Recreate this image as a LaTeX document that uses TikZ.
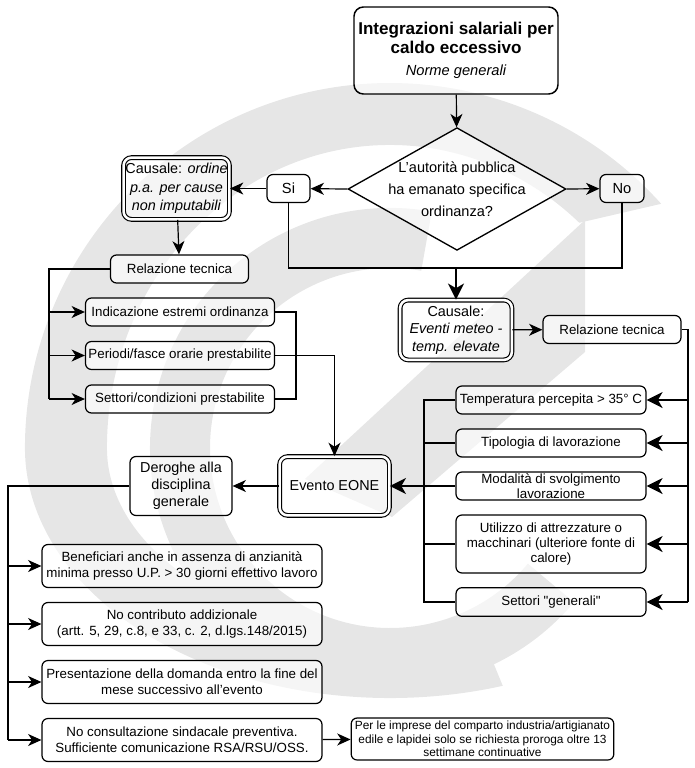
\documentclass[tikz,border=0pt]{standalone}
\usepackage{fontspec}
\setmainfont{Liberation Sans}
\newfontfamily\qfont{Liberation Sans}[Ligatures=TeXOff]
\usetikzlibrary{arrows.meta,shapes.geometric,calc}
\definecolor{wm}{HTML}{E6E6E6}
\tikzset{
  box/.style={draw, fill=white, fill opacity=0.6, text opacity=1, rounded corners=4.5pt, line width=0.9pt,
    align=center, inner sep=0pt, font=\fontsize{10}{12}\selectfont},
  dbox/.style={draw, fill=white, fill opacity=0.6, text opacity=1, double, double distance=1.9pt,
    line width=0.85pt, rounded corners=6pt, align=center, inner sep=0pt, font=\fontsize{10.8}{13.5}\selectfont},
  ln/.style={line width=0.9pt},
  tk/.style={line width=1.4pt},
  arr/.style={ln, -{Stealth[length=10pt,width=9pt,inset=3pt]}},
  tarr/.style={tk, -{Stealth[length=12pt,width=12pt,inset=3.5pt]}}
}
\begin{document}
\begin{tikzpicture}[x=0.75pt,y=-0.75pt]
\useasboundingbox (0,0) rectangle (694,768);
% watermark
\fill[wm] (661.2,203.8) arc[start angle=-42,end angle=-180,radius=365]
  arc[start angle=-180,end angle=-288,x radius=365,y radius=250] -- (477.4,623.9)
  arc[start angle=-288,end angle=-180,x radius=283,y radius=185]
  arc[start angle=-180,end angle=-48,x radius=283,y radius=303] -- cycle;
\fill[wm] (431.7,211.6) arc[start angle=-80,end angle=-320,radius=240] -- (527.9,563.7)
  arc[start angle=-320,end angle=-80,radius=180] -- cycle;
\fill[wm] (305,479) -- (585,220) -- (585,352) -- (392,517) -- cycle;

% nodes
\node[box, line width=1.1pt, rounded corners=7pt, minimum width=153pt, minimum height=65.25pt,
  font=\bfseries\fontsize{12.8}{14.3}\selectfont] (title) at (456,50.5)
  {Integrazioni salariali per\\caldo eccessivo\\[2pt]{\mdseries\itshape\fontsize{11}{13}\selectfont Norme generali}};
\node[draw, fill=white, fill opacity=0.6, text opacity=1, line width=1pt, shape=diamond, aspect=1.78, inner sep=-9pt,
  minimum width=163.5pt, minimum height=92pt, align=center, font=\fontsize{10.9}{16.5}\selectfont] (dia) at (457,189)
  {L'autorità pubblica\\ha emanato specifica\\ordinanza?};
\node[box, font=\fontsize{11}{13}\selectfont, minimum width=32.25pt, minimum height=21pt] (si) at (288.5,188.5) {Si};
\node[box, font=\fontsize{11}{13}\selectfont, minimum width=33pt, minimum height=21pt] (no) at (622,188.5) {No};
\node[dbox, font=\fontsize{10.8}{14}\selectfont, minimum width=79.4pt, minimum height=46.35pt] (causL) at (176.5,188.5)
  {Causale: \textit{ordine}\\\textit{p.a. per cause}\\\textit{non imputabili}};
\node[box, minimum width=103.5pt, minimum height=21pt] (relL) at (179.5,269) {Relazione tecnica};
\node[box, minimum width=141.75pt, minimum height=21pt] (ind) at (180,312) {Indicazione estremi ordinanza};
\node[box, minimum width=141.75pt, minimum height=21pt] (per) at (180,355.5) {Periodi/fasce orarie prestabilite};
\node[box, minimum width=141.75pt, minimum height=21pt] (set) at (180,399) {Settori/condizioni prestabilite};
\node[dbox, font=\fontsize{10.8}{13}\selectfont, minimum width=83.85pt, minimum height=44.85pt] (causR) at (456,330)
  {Causale:\\\textit{Eventi meteo -}\\\textit{temp. elevate}};
\node[box, minimum width=103.5pt, minimum height=21pt] (relR) at (612,329.5) {Relazione tecnica};
\node[box, minimum width=142.5pt, minimum height=21pt] (temp) at (551,400) {Temperatura percepita > 35° C};
\node[box, minimum width=142.5pt, minimum height=21pt] (tip) at (551,443) {Tipologia di lavorazione};
\node[box, font=\fontsize{10}{11.5}\selectfont, minimum width=142.5pt, minimum height=21pt] (mod) at (551,486) {Modalità di svolgimento\\lavorazione};
\node[box, font=\fontsize{10}{11.5}\selectfont, minimum width=142.5pt, minimum height=43.5pt] (util) at (551,544) {Utilizzo di attrezzature o\\macchinari (ulteriore fonte di\\calore)};
\node[box, minimum width=142.5pt, minimum height=21.5pt] (setg) at (551,602) {\qfont Settori "generali"};
\node[dbox, minimum width=82.35pt, minimum height=44.1pt] (ev) at (334.5,486) {Evento EONE};
\node[box, font=\fontsize{10.8}{12.75}\selectfont, minimum width=76.5pt, minimum height=44.25pt] (der) at (181,486)
  {Deroghe alla\\disciplina\\generale};
\node[box, minimum width=210pt, minimum height=32.25pt] (ben) at (182,566)
  {Beneficiari anche in assenza di anzianità\\minima presso U.P. > 30 giorni effettivo lavoro};
\node[box, minimum width=210pt, minimum height=32.25pt] (noc) at (182,624)
  {No contributo addizionale\\(artt. 5, 29, c.8, e 33, c. 2, d.lgs.148/2015)};
\node[box, minimum width=210pt, minimum height=32.25pt] (pres) at (182,682)
  {Presentazione della domanda entro la fine del\\mese successivo all'evento};
\node[box, minimum width=210pt, minimum height=32.25pt] (nocons) at (182,740)
  {No consultazione sindacale preventiva.\\Sufficiente comunicazione RSA/RSU/OSS.};
\node[box, font=\fontsize{8.9}{10.3}\selectfont, minimum width=197pt, minimum height=31.5pt] (perle) at (482.5,739)
  {Per le imprese del comparto industria/artigianato\\edile e lapidei solo se richiesta proroga oltre 13\\settimane continuative};

% coordinates
\coordinate (m) at (456,268);
\coordinate (lbus) at (49,269);
\coordinate (br) at (296,312);
\coordinate (rbus) at (688,329.5);
\coordinate (mbus) at (424,400);
\coordinate (dbus) at (8,486);

% connectors
\draw[arr] (title) -- (dia);
\draw[arr] (dia.west) -- (si);
\draw[arr] (si) -- (causL);
\draw[arr] (dia.east) -- (no);
\draw[ln] (si.south) |- (m) -| (no.south);
\draw[tarr] (m) -- (causR.north);
\draw[arr] (causL) -- (relL);
\draw[ln] (relL.west) -- (lbus) -- (lbus |- set.west);
\draw[arr] (lbus |- ind.west) -- (ind.west);
\draw[arr] (lbus |- per.west) -- (per.west);
\draw[arr] (lbus |- set.west) -- (set.west);
\draw[ln] (ind.east) -- (br) -- (br |- set.east) -- (set.east);
\draw[arr] (per.east) -| (ev.north);
\draw[arr] (causR) -- (relR);
\draw[tk] (relR.east) -- (rbus) -- (rbus |- setg.east);
\draw[tarr] (rbus |- temp.east) -- (temp.east);
\draw[tarr] (rbus |- tip.east) -- (tip.east);
\draw[tarr] (rbus |- mod.east) -- (mod.east);
\draw[tarr] (rbus |- util.east) -- (util.east);
\draw[tarr] (rbus |- setg.east) -- (setg.east);
\draw[ln] (temp.west) -- (mbus) -- (mbus |- setg.west) -- (setg.west);
\draw[ln] (tip.west) -- (mbus |- tip.west);
\draw[ln] (mod.west) -- (mbus |- mod.west);
\draw[ln] (util.west) -- (mbus |- util.west);
\draw[tarr] (mbus |- ev.east) -- (ev.east);
\draw[arr] (ev) -- (der);
\draw[tk] (der.west) -- (dbus) -- (dbus |- nocons.west);
\draw[arr] (dbus |- ben.west) -- (ben.west);
\draw[arr] (dbus |- noc.west) -- (noc.west);
\draw[arr] (dbus |- pres.west) -- (pres.west);
\draw[arr] (dbus |- nocons.west) -- (nocons.west);
\draw[arr] (nocons) -- (perle);
\end{tikzpicture}
\end{document}
